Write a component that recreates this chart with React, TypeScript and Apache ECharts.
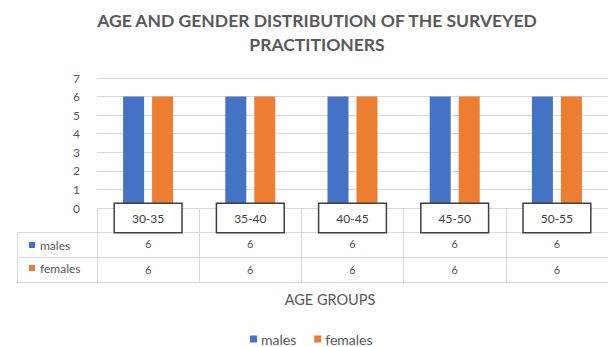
import React, { useEffect, useRef } from "react";
import * as echarts from "echarts";

const ageGroups = ["30-35", "35-40", "40-45", "45-50", "50-55"];
const males = [6, 6, 6, 6, 6];
const females = [6, 6, 6, 6, 6];
const yTicks = { min: 0, max: 7, interval: 1 };

const BLUE = "#4472C4";
const ORANGE = "#ED7D31";
const TEXT = "#595959";
const GRID = "#d9d9d9";
const FONT = "Lato, 'Open Sans', sans-serif";

export default function App() {
  const ref = useRef<HTMLDivElement>(null);

  useEffect(() => {
    if (!ref.current) return;
    const chart = echarts.init(ref.current, undefined, { renderer: "svg" });

    // one data-table row: an unlabelled category axis whose labels are the values
    const valueRow = (values: number[], margin: number) => ({
      type: "category",
      data: values.map(String),
      position: "bottom",
      axisLine: { show: false },
      axisTick: { show: false },
      splitLine: { show: false },
      axisLabel: { margin, color: TEXT, fontSize: 11, fontFamily: FONT },
    });

    chart.setOption({
      animation: false,
      backgroundColor: "#ffffff",
      textStyle: { fontFamily: FONT },
      title: [
        {
          text: "AGE AND GENDER DISTRIBUTION OF THE SURVEYED\nPRACTITIONERS",
          left: 317,
          top: 8,
          padding: 0,
          textAlign: "center",
          textStyle: {
            color: TEXT,
            fontSize: 17.5,
            fontWeight: "bold",
            fontFamily: FONT,
            lineHeight: 24,
          },
        },
        {
          text: "AGE GROUPS",
          left: 330,
          top: 292,
          padding: 0,
          textAlign: "center",
          textStyle: { color: TEXT, fontSize: 14.5, fontWeight: "normal", fontFamily: FONT },
        },
      ],
      legend: [
        {
          data: ["males", "females"],
          left: 250,
          top: 332,
          padding: 0,
          icon: "rect",
          itemWidth: 7,
          itemHeight: 7,
          itemGap: 18,
          textStyle: { color: TEXT, fontSize: 14, fontFamily: FONT, padding: [0, 0, 0, -1] },
        },
        {
          data: ["males", "females"],
          orient: "vertical",
          left: 29,
          top: 239,
          padding: 0,
          icon: "rect",
          itemWidth: 6,
          itemHeight: 6,
          itemGap: 11,
          textStyle: { color: TEXT, fontSize: 12, fontFamily: FONT },
        },
      ],
      grid: { left: 97, right: 0, top: 78, bottom: 139, containLabel: false },
      xAxis: [
        {
          type: "category",
          data: ageGroups,
          z: 5,
          axisLine: { show: true, lineStyle: { color: GRID, width: 1 } },
          axisTick: { show: true, length: 74, lineStyle: { color: GRID } },
          axisLabel: {
            margin: -4,
            color: "#404040",
            fontSize: 12,
            fontFamily: FONT,
            lineHeight: 14,
            backgroundColor: "#ffffff",
            borderColor: "#3f3f3f",
            borderWidth: 1.5,
            padding: [7, 17, 7, 17],
          },
        },
        valueRow(males, 30),
        valueRow(females, 56),
      ],
      yAxis: {
        type: "value",
        ...yTicks,
        axisLine: { show: false },
        axisTick: { show: false },
        axisLabel: { color: TEXT, fontSize: 12, fontFamily: FONT, margin: 17 },
        splitLine: { lineStyle: { color: GRID } },
      },
      graphic: [
        { type: "line", shape: { x1: 17, y1: 232.5, x2: 608, y2: 232.5 }, style: { stroke: GRID, lineWidth: 1 } },
        { type: "line", shape: { x1: 17, y1: 257.5, x2: 608, y2: 257.5 }, style: { stroke: GRID, lineWidth: 1 } },
        { type: "line", shape: { x1: 17, y1: 282.5, x2: 608, y2: 282.5 }, style: { stroke: GRID, lineWidth: 1 } },
        { type: "line", shape: { x1: 17.5, y1: 232, x2: 17.5, y2: 282 }, style: { stroke: GRID, lineWidth: 1 } },
      ],
      series: [
        {
          name: "males",
          type: "bar",
          data: males,
          barWidth: 21,
          barGap: "38%",
          itemStyle: { color: BLUE },
        },
        {
          name: "females",
          type: "bar",
          data: females,
          barWidth: 21,
          barGap: "38%",
          itemStyle: { color: ORANGE },
        },
      ],
    });

    return () => chart.dispose();
  }, []);

  return (
    <div
      ref={ref}
      style={{ position: "fixed", left: 0, top: 0, width: 608, height: 347 }}
    />
  );
}
